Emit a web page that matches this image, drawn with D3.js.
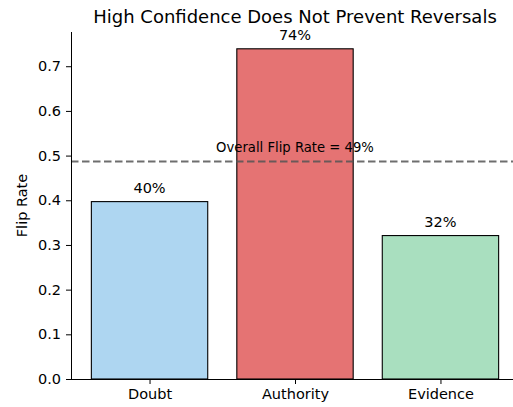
<!DOCTYPE html>
<html>
<head>
<meta charset="utf-8">
<script src="https://cdn.jsdelivr.net/npm/d3@7"></script>
<style>
  body { margin: 0; background: #fff; }
  text { font-family: "DejaVu Sans", sans-serif; fill: #000; }
</style>
</head>
<body>
<svg id="chart" width="513" height="407"></svg>
<script>
// data
var categories = ["Doubt", "Authority", "Evidence"];
var flipRates = [0.397, 0.739, 0.321];
var barColors = ["#aed6f1", "#e57373", "#a9dfbf"];
var overallRate = 0.487;
var yTicks = [0.0, 0.1, 0.2, 0.3, 0.4, 0.5, 0.6, 0.7];

var svg = d3.select("#chart");
var mLeft = 71, mRight = 519, mTop = 32, mBottom = 379;

// matplotlib-style band: bar width 0.8, 0.05 margins
var x = d3.scaleLinear().domain([-0.54, categories.length - 1 + 0.54]).range([mLeft, mRight]);
var y = d3.scaleLinear().domain([0, 0.7766]).range([mBottom, mTop]);

svg.selectAll(".bar")
  .data(flipRates)
  .enter().append("rect")
  .attr("class", "bar")
  .attr("x", function(d, i) { return x(i - 0.4); })
  .attr("width", function(d, i) { return x(i + 0.4) - x(i - 0.4); })
  .attr("y", function(d) { return y(d); })
  .attr("height", function(d) { return y(0) - y(d); })
  .attr("fill", function(d, i) { return barColors[i]; })
  .attr("stroke", "#000")
  .attr("stroke-width", 1.1);

// overall dashed line
svg.append("line")
  .attr("x1", mLeft).attr("x2", 513)
  .attr("y1", y(overallRate)).attr("y2", y(overallRate))
  .attr("stroke", "#555")
  .attr("stroke-opacity", 0.85)
  .attr("stroke-width", 2)
  .attr("stroke-dasharray", "7.5,3.5");

svg.append("text")
  .attr("x", x(1)).attr("y", y(overallRate) - 9)
  .attr("text-anchor", "middle")
  .style("font-size", "13.2px")
  .text("Overall Flip Rate = " + Math.round(overallRate * 100) + "%");

// value labels
svg.selectAll(".val")
  .data(flipRates)
  .enter().append("text")
  .attr("class", "val")
  .attr("x", function(d, i) { return x(i); })
  .attr("y", function(d) { return y(d) - 9; })
  .attr("text-anchor", "middle")
  .style("font-size", "14.5px")
  .text(function(d) { return Math.round(d * 100) + "%"; });

// axes
var yAxis = d3.axisLeft(y).tickValues(yTicks).tickFormat(d3.format(".1f")).tickSize(5).tickPadding(5);
var gy = svg.append("g").attr("transform", "translate(" + mLeft + ",0)").call(yAxis);
gy.select(".domain").attr("d", "M0.5," + mTop + "V" + mBottom);

var xAxis = d3.axisBottom(x).tickValues(d3.range(categories.length))
  .tickFormat(function(i) { return categories[i]; }).tickSize(5).tickPadding(5);
var gx = svg.append("g").attr("transform", "translate(0," + mBottom + ")").call(xAxis);
gx.select(".domain").attr("d", "M" + mLeft + ",0.5H" + mRight);

svg.selectAll(".tick text").style("font-size", "14.5px").attr("fill", "#000");
svg.selectAll(".tick line").attr("stroke", "#000").attr("stroke-width", 1);
svg.selectAll(".domain").attr("stroke", "#000").attr("stroke-width", 1);

// titles
svg.append("text")
  .attr("x", 295).attr("y", 23)
  .attr("text-anchor", "middle")
  .style("font-size", "18px")
  .text("High Confidence Does Not Prevent Reversals");

svg.append("text")
  .attr("transform", "translate(27," + ((mTop + mBottom) / 2) + ") rotate(-90)")
  .attr("text-anchor", "middle")
  .style("font-size", "14.5px")
  .text("Flip Rate");
</script>
</body>
</html>
